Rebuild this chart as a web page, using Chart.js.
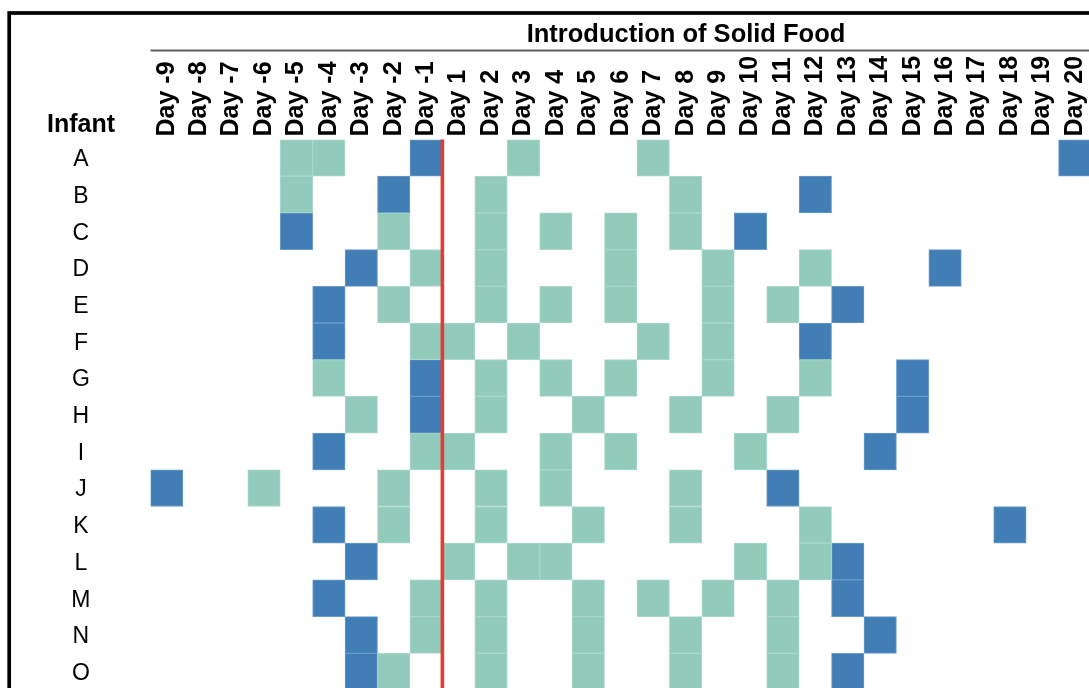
<!DOCTYPE html>
<html>
<head>
<meta charset="utf-8">
<title>Introduction of Solid Food</title>
<script src="https://cdn.jsdelivr.net/npm/chart.js@4.4.1/dist/chart.umd.min.js"></script>
<style>
  html, body { margin: 0; padding: 0; background: #ffffff; overflow: hidden; }
  #wrap { width: 1091px; height: 690px; }
</style>
</head>
<body>
<div id="wrap"><canvas id="chart" width="1091" height="690"></canvas></div>
<script>
// Infants (rows, top to bottom)
const infants = ['A', 'B', 'C', 'D', 'E', 'F', 'G', 'H', 'I', 'J', 'K', 'L', 'M', 'N', 'O'];

// Day columns relative to the introduction of solid food (no day 0)
const dayLabels = [
  'Day -9', 'Day -8', 'Day -7', 'Day -6', 'Day -5', 'Day -4', 'Day -3', 'Day -2', 'Day -1',
  'Day 1', 'Day 2', 'Day 3', 'Day 4', 'Day 5', 'Day 6', 'Day 7', 'Day 8', 'Day 9', 'Day 10',
  'Day 11', 'Day 12', 'Day 13', 'Day 14', 'Day 15', 'Day 16', 'Day 17', 'Day 18', 'Day 19', 'Day 20'
];

// One string per infant, one character per day: g = green sample, b = blue sample, . = none
const sampleGrid = [
  '....gg..b..g...g............b', // A
  '....g..b..g.....g...b........', // B
  '....b..g..g.g.g.g.b..........', // C
  '......b.g.g...g..g..g...b....', // D
  '.....b.g..g.g.g..g.g.b.......', // E
  '.....b..gg.g...g.g..b........', // F
  '.....g..b.g.g.g..g..g..b.....', // G
  '......g.b.g..g..g..g...b.....', // H
  '.....b..gg..g.g...g...b......', // I
  'b..g...g..g.g...g..b.........', // J
  '.....b.g..g..g..g...g.....b..', // K
  '......b..g.gg.....g.gb.......', // L
  '.....b..g.g..g.g.g.g.b.......', // M
  '......b.g.g..g..g..g..b......', // N
  '......bg..g..g..g..g.b.......'  // O
];

// Position (between two day indices) of the solid-food introduction marker
const introductionBetween = [8, 9];

const GREEN = '#92CBBB';
const BLUE = '#427EB6';
const FONT = '"Liberation Sans", Arial, Helvetica, sans-serif';

// Turn the grid into one floating bar per filled day cell
function cellsFor(code) {
  const cells = [];
  sampleGrid.forEach((row, r) => {
    [...row].forEach((ch, d) => {
      if (ch === code) cells.push({ y: infants[r], x: [d - 0.5, d + 0.5] });
    });
  });
  return cells;
}

// Frame, header texts and the introduction marker
const figureDecor = {
  id: 'figureDecor',
  beforeDraw(chart) {
    const ctx = chart.ctx;
    const area = chart.chartArea;
    ctx.save();
    ctx.fillStyle = '#ffffff';
    ctx.fillRect(0, 0, chart.width, chart.height);

    // outer frame
    ctx.strokeStyle = '#000000';
    ctx.lineWidth = 3.7;
    ctx.strokeRect(9.2, 13, 3000, 3000);

    // rule under the header
    ctx.strokeStyle = '#5f5f5f';
    ctx.lineWidth = 2;
    ctx.beginPath();
    ctx.moveTo(area.left, 50.5);
    ctx.lineTo(chart.width + 5, 50.5);
    ctx.stroke();

    ctx.fillStyle = '#000000';
    ctx.textBaseline = 'alphabetic';
    ctx.textAlign = 'center';
    ctx.font = 'bold 25.5px ' + FONT;
    ctx.fillText('Introduction of Solid Food', 686, 41.5);
    ctx.font = 'bold 25px ' + FONT;
    ctx.fillText('Infant', 81, 132.3);
    ctx.restore();
  },
  afterDatasetsDraw(chart) {
    const ctx = chart.ctx;
    const xs = chart.scales.x;
    const area = chart.chartArea;
    const x = (xs.getPixelForValue(introductionBetween[0]) + xs.getPixelForValue(introductionBetween[1])) / 2;
    ctx.save();
    ctx.strokeStyle = '#E63B2E';
    ctx.lineWidth = 3.6;
    ctx.beginPath();
    ctx.moveTo(x, area.top);
    ctx.lineTo(x, area.bottom + 5);
    ctx.stroke();
    ctx.restore();
  }
};

new Chart(document.getElementById('chart'), {
  type: 'bar',
  data: {
    labels: infants,
    datasets: [
      {
        label: 'green',
        data: cellsFor('g'),
        backgroundColor: GREEN,
        borderColor: '#A9D8CB',
        borderWidth: 1,
        borderSkipped: false
      },
      {
        label: 'blue',
        data: cellsFor('b'),
        backgroundColor: BLUE,
        borderColor: '#6A9BCA',
        borderWidth: 1,
        borderSkipped: false
      }
    ]
  },
  options: {
    indexAxis: 'y',
    responsive: false,
    animation: false,
    events: [],
    grouped: false,
    barPercentage: 1,
    categoryPercentage: 1,
    layout: { padding: 0 },
    plugins: {
      legend: { display: false },
      tooltip: { enabled: false },
      title: { display: false }
    },
    scales: {
      x: {
        type: 'linear',
        position: 'top',
        min: -0.5,
        max: dayLabels.length - 0.5,
        grid: { display: false, drawTicks: false },
        border: { display: false },
        afterBuildTicks: (scale) => {
          scale.ticks = dayLabels.map((_, i) => ({ value: i }));
        },
        afterFit: (scale) => {
          scale.height = 139.5;
          scale.paddingLeft = 0;
          scale.paddingRight = 0;
        },
        ticks: {
          autoSkip: false,
          minRotation: 90,
          maxRotation: 90,
          padding: 3,
          labelOffset: 30,
          color: '#000000',
          font: { family: FONT, size: 25, weight: 'bold' },
          callback: (value) => dayLabels[value]
        }
      },
      y: {
        type: 'category',
        offset: true,
        grid: { display: false, drawTicks: false },
        border: { display: false },
        afterFit: (scale) => {
          scale.width = 150.5;
          scale.paddingTop = 0;
          scale.paddingBottom = 0;
        },
        ticks: {
          crossAlign: 'center',
          padding: 60,
          labelOffset: 2,
          color: '#000000',
          font: { family: FONT, size: 23 }
        }
      }
    }
  },
  plugins: [figureDecor]
});
</script>
</body>
</html>
